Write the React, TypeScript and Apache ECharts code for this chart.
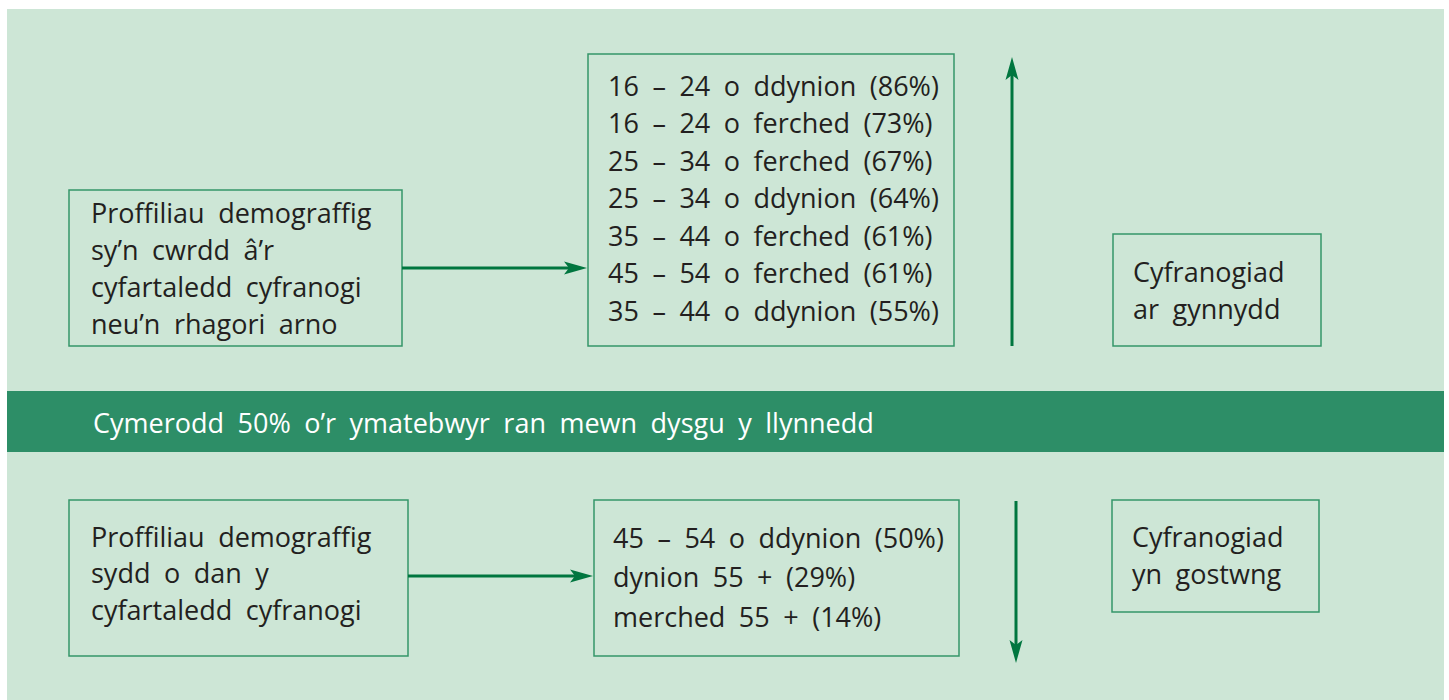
import React, { useEffect, useRef } from "react";
import * as echarts from "echarts";

// ---- data ----
const aboveCategories = [
  "16 – 24 o ddynion",
  "16 – 24 o ferched",
  "25 – 34 o ferched",
  "25 – 34 o ddynion",
  "35 – 44 o ferched",
  "45 – 54 o ferched",
  "35 – 44 o ddynion",
];
const aboveValues = [86, 73, 67, 64, 61, 61, 55];
const belowCategories = ["45 – 54 o ddynion", "dynion 55 +", "merched 55 +"];
const belowValues = [50, 29, 14];
const averageValue = 50;
const aboveLabelLines = [
  "Proffiliau demograffig",
  "sy’n cwrdd â’r",
  "cyfartaledd cyfranogi",
  "neu’n rhagori arno",
];
const belowLabelLines = ["Proffiliau demograffig", "sydd o dan y", "cyfartaledd cyfranogi"];
const risingLines = ["Cyfranogiad", "ar gynnydd"];
const fallingLines = ["Cyfranogiad", "yn gostwng"];

// ---- styles ----
const BG = "#cde6d6";
const BAND = "#2d8e67";
const BORDER = "#35966a";
const ARROW = "#00763f";
const TEXT = "#231f20";
const FONT = "27px 'Open Sans'";
// the original typeface sets words further apart; an en space reproduces that
const WIDE_SPACE = "\u2002";

function textLines(lines: string[], x: number, y0: number, step: number, color = TEXT, font = FONT) {
  return lines.map((t, i) => ({
    type: "text",
    x,
    y: y0 + i * step,
    style: {
      text: t.split(" ").join(WIDE_SPACE),
      font,
      fill: color,
      textAlign: "left",
      textVerticalAlign: "middle",
    },
  }));
}

function box(x: number, y: number, w: number, h: number) {
  return {
    type: "rect",
    shape: { x, y, width: w, height: h },
    style: { fill: "none", stroke: BORDER, lineWidth: 1.5 },
  };
}

function hArrow(x1: number, x2: number, y: number) {
  const L = 23, W = 6.5, N = 5;
  return [
    { type: "line", shape: { x1, y1: y, x2: x2 - L + N, y2: y }, style: { stroke: ARROW, lineWidth: 3 } },
    {
      type: "polygon",
      shape: { points: [[x2, y], [x2 - L, y - W], [x2 - L + N, y], [x2 - L, y + W]] },
      style: { fill: ARROW },
    },
  ];
}

function vArrow(x: number, yFrom: number, yTip: number) {
  const L = 23, W = 6.5, N = 5;
  const d = yTip < yFrom ? -1 : 1;
  return [
    { type: "line", shape: { x1: x, y1: yFrom, x2: x, y2: yTip - d * (L - N) }, style: { stroke: ARROW, lineWidth: 3 } },
    {
      type: "polygon",
      shape: {
        points: [[x, yTip], [x - W, yTip - d * L], [x, yTip - d * (L - N)], [x + W, yTip - d * L]],
      },
      style: { fill: ARROW },
    },
  ];
}

export default function App() {
  const ref = useRef<HTMLDivElement>(null);
  useEffect(() => {
    if (!ref.current) return;
    const chart = echarts.init(ref.current, undefined, { renderer: "svg" });
    const aboveTexts = aboveCategories.map((c, i) => `${c} (${aboveValues[i]}%)`);
    const belowTexts = belowCategories.map((c, i) => `${c} (${belowValues[i]}%)`);
    const elements: any[] = [
      { type: "rect", shape: { x: 7, y: 9, width: 1437, height: 691 }, style: { fill: BG } },
      { type: "rect", shape: { x: 7, y: 391, width: 1437, height: 61 }, style: { fill: BAND } },
      ...textLines([`Cymerodd ${averageValue}% o’r ymatebwyr ran mewn dysgu y llynnedd`], 93, 422, 0, "#ffffff"),
      // top row
      box(69, 190, 333, 156),
      ...textLines(aboveLabelLines, 91, 212, 37),
      ...hArrow(402, 587, 268),
      box(588, 54, 366, 292),
      ...textLines(aboveTexts, 608, 85, 37.5),
      ...vArrow(1012, 346, 57),
      box(1113, 234, 208, 112),
      ...textLines(risingLines, 1133, 271, 37),
      // bottom row
      box(69, 500, 339, 156),
      ...textLines(belowLabelLines, 91, 536, 36.5),
      ...hArrow(408, 593, 576),
      box(594, 500, 365, 156),
      ...textLines(belowTexts, 613, 537, 39.5),
      ...vArrow(1016, 501, 663),
      box(1112, 500, 207, 112),
      ...textLines(fallingLines, 1132, 536, 37),
    ];
    chart.setOption({ animation: false, graphic: { elements } });
    return () => chart.dispose();
  }, []);
  return (
    <div
      ref={ref}
      style={{ position: "absolute", left: 0, top: 0, width: 1449, height: 700 }}
    />
  );
}
